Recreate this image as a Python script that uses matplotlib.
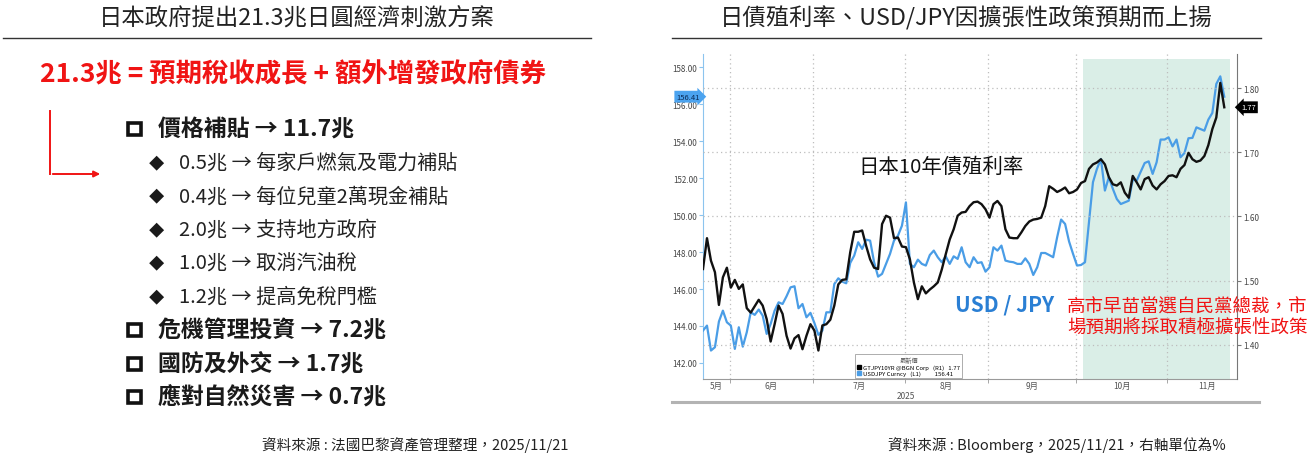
import numpy as np
import pandas as pd
import matplotlib
matplotlib.use('Agg')
import matplotlib.pyplot as plt
import matplotlib.transforms as mtransforms
from matplotlib.lines import Line2D
from matplotlib.patches import Rectangle, FancyArrowPatch

plt.rcParams['font.family'] = ['Noto Sans CJK TC', 'DejaVu Sans']

W, H = 1312, 456


def fx(px):
    return px / W


def fy(py):
    return 1 - py / H


# ---- data -------------------------------------------------------------
dates = pd.bdate_range('2025-05-22', '2025-11-21')

# Japan 10y government bond yield (%), right axis
jgb10y = [
    1.518, 1.566, 1.531, 1.513, 1.462, 1.505, 1.520, 1.489, 1.501, 1.487,
    1.494, 1.457, 1.450, 1.460, 1.470, 1.461, 1.440, 1.405, 1.432, 1.461,
    1.448, 1.414, 1.394, 1.410, 1.415, 1.393, 1.414, 1.432, 1.422, 1.391,
    1.430, 1.432, 1.439, 1.461, 1.494, 1.501, 1.502, 1.544, 1.576, 1.576,
    1.578, 1.554, 1.533, 1.520, 1.518, 1.588, 1.601, 1.598, 1.566, 1.567,
    1.553, 1.552, 1.533, 1.497, 1.471, 1.491, 1.480, 1.486, 1.491, 1.497,
    1.517, 1.541, 1.564, 1.580, 1.601, 1.606, 1.607, 1.616, 1.622, 1.623,
    1.619, 1.611, 1.598, 1.619, 1.624, 1.616, 1.580, 1.567, 1.566, 1.566,
    1.575, 1.585, 1.592, 1.595, 1.596, 1.598, 1.616, 1.647, 1.643, 1.638,
    1.641, 1.645, 1.636, 1.638, 1.642, 1.652, 1.655, 1.674, 1.681, 1.684,
    1.689, 1.681, 1.661, 1.650, 1.648, 1.653, 1.637, 1.629, 1.663, 1.653,
    1.642, 1.658, 1.661, 1.648, 1.642, 1.650, 1.655, 1.663, 1.664, 1.661,
    1.674, 1.680, 1.699, 1.689, 1.685, 1.687, 1.694, 1.711, 1.736, 1.754,
    1.808, 1.770,
]

# USD/JPY, left axis
usdjpy = [
    143.75, 144.02, 142.67, 142.85, 144.24, 144.83, 144.20, 144.02, 142.76, 143.93,
    142.88, 143.66, 144.74, 144.60, 144.89, 144.56, 143.57, 144.11, 144.83, 145.28,
    145.19, 145.61, 146.09, 146.15, 144.96, 145.19, 144.47, 144.71, 144.16, 143.52,
    143.75, 144.74, 144.74, 146.27, 146.58, 146.40, 146.31, 147.41, 147.81, 148.53,
    148.17, 148.67, 148.62, 147.45, 146.67, 146.82, 147.36, 147.90, 148.62, 148.89,
    149.43, 150.69, 147.36, 147.18, 147.59, 147.36, 147.27, 147.84, 148.08, 147.72,
    147.45, 147.77, 147.36, 147.77, 147.63, 148.26, 147.45, 147.18, 147.72, 147.41,
    147.45, 146.94, 147.18, 148.26, 148.08, 148.35, 147.54, 147.48, 147.45, 147.36,
    147.36, 147.66, 147.36, 146.76, 147.18, 147.95, 147.95, 147.84, 147.72, 148.80,
    149.76, 149.52, 148.57, 147.90, 147.27, 147.30, 147.45, 149.61, 151.78, 152.50,
    153.04, 151.33, 152.05, 151.42, 150.87, 150.60, 150.69, 150.78, 151.92, 151.87,
    152.35, 152.82, 152.91, 152.23, 152.86, 154.09, 154.09, 154.21, 153.72, 154.09,
    153.13, 153.36, 154.16, 154.18, 154.75, 154.66, 154.57, 155.17, 155.53, 157.10,
    157.51, 156.41,
]

highlight_start = '2025-10-03'
usd_ticks = [142, 144, 146, 148, 150, 152, 154, 156, 158]
jgb_ticks = [1.40, 1.50, 1.60, 1.70, 1.80]

left_title = '日本政府提出21.3兆日圓經濟刺激方案'
right_title = '日債殖利率、USD/JPY因擴張性政策預期而上揚'
headline = '21.3兆 = 預期稅收成長 + 額外增發政府債券'
items = [
    (1, '價格補貼 → 11.7兆'),
    (2, '0.5兆 → 每家戶燃氣及電力補貼'),
    (2, '0.4兆 → 每位兒童2萬現金補貼'),
    (2, '2.0兆 → 支持地方政府'),
    (2, '1.0兆 → 取消汽油稅'),
    (2, '1.2兆 → 提高免稅門檻'),
    (1, '危機管理投資 → 7.2兆'),
    (1, '國防及外交 → 1.7兆'),
    (1, '應對自然災害 → 0.7兆'),
]
left_source = '資料來源 : 法國巴黎資產管理整理，2025/11/21'
right_source = '資料來源 : Bloomberg，2025/11/21，右軸單位為%'
jgb_label = '日本10年債殖利率'
usd_label = 'USD / JPY'
event_note = '高市早苗當選自民黨總裁，市\n場預期將採取積極擴張性政策'

RED = '#f01414'
BLUE = '#4a9de6'
TEXT = '#222222'

fig = plt.figure(figsize=(13.12, 4.56), dpi=100)

# ---- left panel: text -------------------------------------------------
fig.text(fx(297), fy(18), left_title, ha='center', va='center',
         fontsize=16.8, color=TEXT)
fig.add_artist(Line2D([fx(3), fx(591)], [fy(38.5), fy(38.5)], color='#333333', lw=1))

fig.text(fx(40), fy(75), headline, ha='left', va='center',
         fontsize=19, color=RED, fontweight='bold')

# red L-shaped arrow
fig.add_artist(Line2D([fx(50), fx(50)], [fy(112), fy(175)], color=RED, lw=1.4))
fig.add_artist(FancyArrowPatch((fx(50), fy(175)), (fx(103), fy(175)),
                               transform=fig.transFigure, arrowstyle='-|>',
                               mutation_scale=9, color=RED, lw=1.4))

for k, (level, label) in enumerate(items):
    yy = 130 + 33.5 * k
    if level == 1:
        fig.add_artist(Rectangle((fx(128), fy(yy + 6)), fx(13), 12 / H,
                                 transform=fig.transFigure, facecolor='white',
                                 edgecolor='#111111', lw=2.6))
        fig.text(fx(158), fy(yy), label, ha='left', va='center',
                 fontsize=16.5, fontweight='bold', color='#1a1a1a')
    else:
        fig.text(fx(156), fy(yy), '◆', ha='center', va='center',
                 fontsize=11, color='#1a1a1a')
        fig.text(fx(179), fy(yy), label, ha='left', va='center',
                 fontsize=14.5, color=TEXT)

fig.text(fx(568), fy(445), left_source, ha='right', va='center',
         fontsize=10.5, color=TEXT)

# ---- right panel: chart -----------------------------------------------
fig.text(fx(966), fy(18), right_title, ha='center', va='center',
         fontsize=16.8, color=TEXT)
fig.add_artist(Line2D([fx(672), fx(1261)], [fy(38.5), fy(38.5)], color='#333333', lw=1))

x = np.arange(len(dates))

ax_l = fig.add_axes([fx(703), fy(380), fx(1237) - fx(703), (380 - 55) / H])
ax_r = ax_l.twinx()

# highlighted period after the LDP election
hl = int(np.searchsorted(dates, pd.Timestamp(highlight_start)))
ax_l.axvspan(hl - 0.5, len(dates) + 0.5, ymax=0.985, color='#daeee7', lw=0, zorder=0)

ax_l.plot(x, usdjpy, color=BLUE, lw=1.6, zorder=3)
ax_r.plot(x, jgb10y, color='#111111', lw=1.7, zorder=3)

ax_l.set_xlim(0, len(dates) + 2.2)
ax_l.set_ylim(141.13, 158.72)
ax_r.set_ylim(1.3466, 1.853)

ax_l.set_yticks(usd_ticks)
ax_l.set_yticklabels([f'{v:.2f}' for v in usd_ticks])
ax_r.set_yticks(jgb_ticks)
ax_r.set_yticklabels([f'{v:.2f}' for v in jgb_ticks])

# month boundaries and month labels (centred on the month span)
month_first = [i for i in range(1, len(dates)) if dates[i].month != dates[i - 1].month]
bounds = [i - 0.3 for i in month_first]
last = dates[-1]
n_last = len(pd.bdate_range(last.replace(day=1), last + pd.offsets.MonthEnd(0)))
edges = [0] + bounds + [bounds[-1] + n_last]
centers = [(a + b) / 2 for a, b in zip(edges[:-1], edges[1:])]
month_names = [f'{dates[0].month}月'] + [f'{dates[i].month}月' for i in month_first]

ax_l.set_xticks(centers)
ax_l.set_xticklabels(month_names)
ax_l.set_xticks(bounds, minor=True)
ax_l.tick_params(axis='x', which='major', length=0, pad=1.5, labelsize=6, labelcolor='#555555')
ax_l.tick_params(axis='x', which='minor', length=3, color='#999999')
ax_l.grid(which='minor', axis='x', linestyle=(0, (1, 2.5)), color='#bdbdbd', lw=0.9)
ax_r.grid(axis='y', linestyle=(0, (1, 2.5)), color='#bdbdbd', lw=0.9)
ax_r.set_axisbelow(True)

aug = int(np.searchsorted(dates, pd.Timestamp('2025-08-01')))
ax_l.text(aug, -0.051, str(dates[0].year),
          transform=mtransforms.blended_transform_factory(ax_l.transData, ax_l.transAxes),
          ha='center', va='center', fontsize=6, color='#555555')

ax_l.tick_params(axis='y', length=3, pad=1, labelsize=5.8, labelcolor='#444444',
                 color='#8cc4ee')
ax_r.tick_params(axis='y', length=3, pad=1.5, labelsize=5.8, labelcolor='#444444',
                 color='#777777')

for sp in ('top', 'right'):
    ax_l.spines[sp].set_visible(False)
ax_l.spines['left'].set_color('#8cc4ee')
ax_l.spines['bottom'].set_color('#9a9a9a')
for sp in ('top', 'left', 'bottom'):
    ax_r.spines[sp].set_visible(False)
ax_r.spines['right'].set_color('#777777')

# last-value tags on both axes
ax_l.text(-0.006, usdjpy[-1], f'{usdjpy[-1]:.2f}',
          transform=mtransforms.blended_transform_factory(ax_l.transAxes, ax_l.transData),
          ha='right', va='center', fontsize=5.5, color='#0b2a55', zorder=5,
          bbox=dict(boxstyle='rarrow,pad=0.25', fc='#4ba3ef', ec='none'), clip_on=False)
ax_r.text(1.008, jgb10y[-1], f'{jgb10y[-1]:.2f}',
          transform=mtransforms.blended_transform_factory(ax_r.transAxes, ax_r.transData),
          ha='left', va='center', fontsize=5.5, color='white', zorder=5,
          bbox=dict(boxstyle='larrow,pad=0.25', fc='black', ec='none'), clip_on=False)

# Bloomberg-style legend
handles = [Line2D([], [], marker='s', color='black', linestyle='none', markersize=3.5),
           Line2D([], [], marker='s', color=BLUE, linestyle='none', markersize=3.5)]
labels = [f'GTJPY10YR @BGN Corp   (R1)   {jgb10y[-1]:.2f}',
          f'USDJPY Curncy   (L1)          {usdjpy[-1]:.2f}']
leg = ax_r.legend(handles, labels, title='最新價', loc='lower left',
                  bbox_to_anchor=(0.283, 0.0), fontsize=4.3, title_fontsize=4.5,
                  frameon=True, fancybox=False, edgecolor='#888888',
                  borderpad=0.35, handletextpad=0.3, labelspacing=0.15,
                  handlelength=0.8, borderaxespad=0.1)
leg.get_frame().set_linewidth(0.6)
leg.get_title().set_color('#555555')

# grey bottom bar of the Bloomberg screenshot
fig.add_artist(Line2D([fx(672), fx(1259)], [fy(403), fy(403)], color='#b3b3b3', lw=2.2))

# annotations in the chart
fig.text(fx(858), fy(167), jgb_label, ha='left', va='center', fontsize=14.7, color='#111111')
fig.text(fx(955), fy(305), usd_label, ha='left', va='center', fontsize=15,
         fontweight='bold', color='#2a7fd4')
fig.text(fx(1067), fy(318), event_note, ha='left', va='center', fontsize=13.3,
         color=RED, linespacing=1.25)

fig.text(fx(1225.5), fy(445), right_source, ha='right', va='center',
         fontsize=10.5, color=TEXT)

fig.savefig('out.png', dpi=100)
